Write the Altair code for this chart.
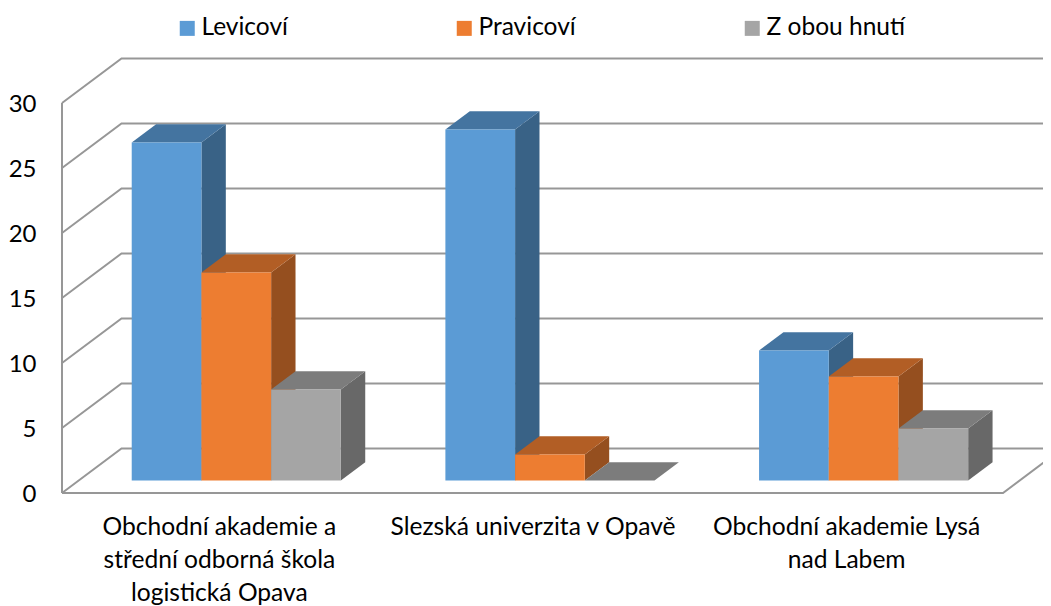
import json
import altair as alt
import pandas as pd

categories = ["Obchodní akademie a\nstřední odborná škola\nlogistická Opava",
              "Slezská univerzita v Opavě",
              "Obchodní akademie Lysá\nnad Labem"]
series = ["Levicoví", "Pravicoví", "Z obou hnutí"]
values = {
    "Levicoví": [26, 27, 10],
    "Pravicoví": [16, 2, 8],
    "Z obou hnutí": [7, 0, 4],
}
front_colors = ["#5B9BD5", "#ED7D31", "#A5A5A5"]
top_colors = ["#4474A0", "#B25E25", "#7C7C7C"]
side_colors = ["#396286", "#954F1F", "#686868"]
ticks = [0, 5, 10, 15, 20, 25, 30]

FONT = "Lato"
FS = 24.5
GRID = "#979797"

# oblique projection: depth 1 shifts by these amounts in axis units
DU = 59.5 / 313.67
DV = 44.5 / 13.0
BAR_W = 1 / 4.5
GAP = 0.75 * BAR_W + 0.0025
D0, D1 = 0.28, 0.69


def proj(u, v, d):
    return u + d * DU, v + d * DV


# walls and floor
line_rows = []
def add_line(name, pts):
    for i, (u, v, d) in enumerate(pts):
        x, y = proj(u, v, d)
        line_rows.append({"g": name, "i": i, "x": x, "y": y})

for t in ticks:
    add_line(f"t{t}", [(0, t, 0), (0, t, 1), (3, t, 1)])
add_line("axis", [(0, 0, 0), (0, 30, 0)])
add_line("floor", [(0, 0, 0), (3, 0, 0), (3, 0, 1)])

front, side, top = [], [], []
for c in range(3):
    for s, name in enumerate(series):
        v = values[name][c]
        u0 = c + GAP + s * BAR_W
        u1 = u0 + BAR_W
        x0, y0 = proj(u0, 0, D0)
        x1, y1 = proj(u1, v, D0)
        front.append({"x": x0, "x2": x1, "y": y0, "y2": y1, "series": name})
        g = f"{c}-{s}"
        if v > 0:
            for u, d in ((u1, D0), (u1, D1)):
                xa, ya = proj(u, v, d)
                _, yb = proj(u, 0, d)
                side.append({"g": g, "x": xa, "y": ya, "y2": yb, "fill": side_colors[s]})
        xa, ya = proj(u0, v, D0)
        xb, yb = proj(u0, v, D1)
        xc, yc = proj(u1, v, D0)
        xd, yd = proj(u1, v, D1)
        top += [
            {"g": g, "x": xa, "y": ya, "y2": ya, "fill": top_colors[s]},
            {"g": g, "x": xb, "y": yb, "y2": ya, "fill": top_colors[s]},
            {"g": g, "x": xc, "y": yb, "y2": ya, "fill": top_colors[s]},
            {"g": g, "x": xd, "y": yb, "y2": yb, "fill": top_colors[s]},
        ]

xs = alt.Scale(domain=[0, 3], nice=False, zero=False)
ys = alt.Scale(domain=[0, 30], nice=False, zero=False)
lines = [c.split("\n") for c in categories]
label_expr = json.dumps(lines, ensure_ascii=False) + "[floor(datum.value)]"

X = alt.X("x:Q", scale=xs, title=None, axis=alt.Axis(
    values=[0.5, 1.5, 2.5], labelExpr=label_expr, domain=False, ticks=False, grid=False,
    labelFont=FONT, labelFontSize=24.6, labelColor="#000000", labelPadding=22,
    labelLineHeight=33, labelOverlap=False, labelBound=False, labelFlush=False, labelAngle=0,
    labelLimit=500))
Y = alt.Y("y:Q", scale=ys, title=None, axis=alt.Axis(
    values=ticks, domain=False, ticks=False, grid=False, labelFont=FONT, labelFontSize=24,
    labelColor="#000000", labelPadding=26, labelBound=False, labelOffset=1))

lyr_lines = alt.Chart(pd.DataFrame(line_rows)).mark_line(
    color=GRID, strokeWidth=2, clip=False, strokeJoin="miter"
).encode(x=X, y=Y, detail="g:N", order="i:Q")

def faces(rows):
    return alt.Chart(pd.DataFrame(rows)).mark_area(clip=False, interpolate="linear", line=False).encode(
        x=X, y=Y, y2="y2:Q", detail="g:N",
        color=alt.Color("fill:N", scale=None),
    )

lyr_front = alt.Chart(pd.DataFrame(front)).mark_rect(clip=False).encode(
    x=X, x2="x2:Q", y=Y, y2="y2:Q",
    color=alt.Color("series:N", scale=alt.Scale(domain=series, range=front_colors),
                    legend=alt.Legend(
                        title=None, orient="none", direction="horizontal", columns=3,
                        columnPadding=164, legendX=113, legendY=-87, padding=0,
                        symbolType="square", symbolSize=225, symbolStrokeWidth=0,
                        labelFont=FONT, labelFontSize=FS, labelColor="#000000", labelOffset=2,
                        labelLimit=300, symbolOpacity=1)),
)

chart = alt.layer(lyr_lines, faces(side), faces(top), lyr_front).resolve_scale(
    color="independent"
).properties(
    width=941, height=390,
    padding={"left": 54, "right": 40, "top": 95, "bottom": 113},
    autosize=alt.AutoSizeParams(type="none"),
).configure_view(stroke=None)

chart.save("out.html", embed_options={"renderer": "svg", "actions": False})
